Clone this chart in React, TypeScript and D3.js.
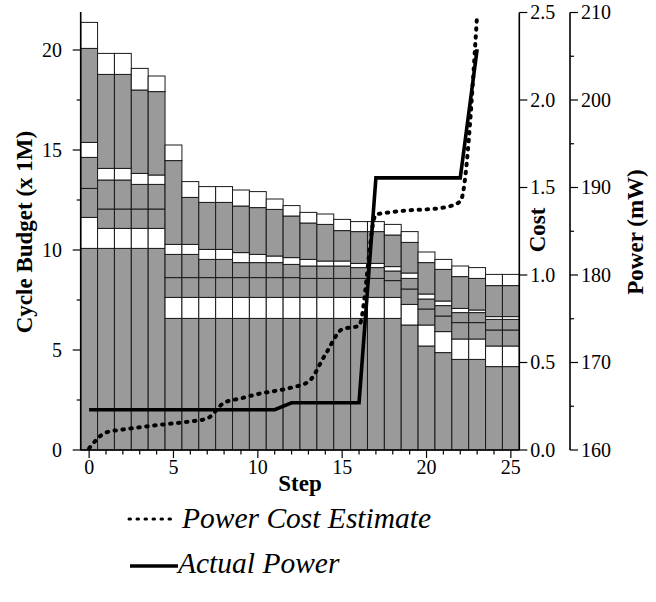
import React from "react";
import * as d3 from "d3";

// ---- data ----
const steps = [0, 1, 2, 3, 4, 5, 6, 7, 8, 9, 10, 11, 12, 13, 14, 15, 16, 17, 18, 19, 20, 21, 22, 23, 24, 25];

// cumulative budget levels (x 1M) for each step, bottom to top
const level1 = [10.08, 10.08, 10.08, 10.08, 10.08, 6.58, 6.58, 6.58, 6.58, 6.58, 6.58, 6.58, 6.58, 6.58, 6.58, 6.58, 6.58, 6.58, 6.58, 6.25, 5.2, 4.87, 4.53, 4.53, 4.17, 4.17];
const level2 = [11.63, 11.08, 11.08, 11.08, 11.08, 7.63, 7.63, 7.63, 7.63, 7.63, 7.63, 7.63, 7.63, 7.63, 7.63, 7.63, 7.63, 7.63, 7.63, 7.28, 6.25, 5.92, 5.55, 5.55, 5.2, 5.2];
const level3 = [13.08, 12.05, 12.05, 12.05, 12.05, 8.62, 8.62, 8.62, 8.62, 8.62, 8.62, 8.62, 8.62, 8.58, 8.58, 8.58, 8.58, 8.58, 8.47, 8.05, 7.05, 6.7, 6.37, 6.37, 6.0, 6.0];
const level4 = [14.63, 13.5, 13.5, 13.28, 13.28, 9.78, 9.78, 9.53, 9.53, 9.37, 9.37, 9.37, 9.28, 9.2, 9.2, 9.2, 9.12, 9.12, 8.95, 8.58, 7.55, 7.22, 6.87, 6.87, 6.53, 6.53];
const level5 = [15.38, 14.08, 14.08, 13.83, 13.75, 10.28, 10.28, 10.03, 10.03, 9.87, 9.78, 9.7, 9.62, 9.53, 9.45, 9.45, 9.33, 9.33, 9.17, 8.85, 7.8, 7.45, 7.08, 7.0, 6.67, 6.67];
const level6 = [20.08, 18.78, 18.78, 18.0, 17.92, 14.47, 12.63, 12.38, 12.38, 12.2, 12.12, 12.03, 11.7, 11.35, 11.28, 10.97, 10.92, 10.92, 10.75, 10.38, 9.37, 9.03, 8.67, 8.58, 8.22, 8.22];
const level7 = [21.38, 19.83, 19.83, 19.08, 18.7, 15.25, 13.42, 13.17, 13.17, 13.0, 12.92, 12.55, 12.22, 11.88, 11.8, 11.53, 11.42, 11.42, 11.28, 10.92, 9.9, 9.53, 9.2, 9.12, 8.78, 8.78];
// band kind between consecutive levels: used (gray) or slack (white)
const bandKinds = ["used", "slack", "used", "used", "slack", "used", "slack"];

const lineSteps = [0, 1, 2, 3, 4, 5, 6, 7, 8, 9, 10, 11, 12, 13, 14, 15, 16, 17, 18, 19, 20, 21, 22, 23];
const costEstimate = [0.01, 0.1, 0.117, 0.13, 0.142, 0.152, 0.163, 0.18, 0.27, 0.295, 0.32, 0.337, 0.357, 0.39, 0.545, 0.69, 0.71, 1.345, 1.36, 1.37, 1.375, 1.385, 1.42, 2.49];
const actualPower = [164.6, 164.6, 164.6, 164.6, 164.6, 164.6, 164.6, 164.6, 164.6, 164.6, 164.6, 164.6, 165.4, 165.4, 165.4, 165.4, 165.4, 191.1, 191.1, 191.1, 191.1, 191.1, 191.1, 205.8];

const xTicks = [0, 5, 10, 15, 20, 25];
const leftTicks = [0, 5, 10, 15, 20];
const costTicks = [0, 0.5, 1.0, 1.5, 2.0, 2.5];
const powerTicks = [160, 170, 180, 190, 200, 210];

const FONT = "Liberation Serif, DejaVu Serif, Times New Roman, Times, serif";

export default function App() {
  const x = d3.scaleLinear().domain([-0.5, 25.5]).range([80.7, 519.3]);
  const yL = d3.scaleLinear().domain([0, 21.9]).range([450, 12]);
  const yC = d3.scaleLinear().domain([0, 2.5]).range([450, 12.5]);
  const yP = d3.scaleLinear().domain([160, 210]).range([450, 12.5]);
  const bw = x(1) - x(0);

  const levels = [level1, level2, level3, level4, level5, level6, level7];
  const rects: JSX.Element[] = [];
  steps.forEach((s, i) => {
    let lo = 0;
    levels.forEach((lv, k) => {
      const hi = lv[i];
      if (hi > lo) {
        rects.push(
          <rect
            key={`${i}-${k}`}
            x={x(s - 0.5)}
            y={yL(hi)}
            width={bw}
            height={yL(lo) - yL(hi)}
            fill={bandKinds[k] === "used" ? "#9a9a9a" : "#ffffff"}
            stroke="#1a1a1a"
            strokeWidth={1}
          />
        );
      }
      lo = Math.max(lo, hi);
    });
  });

  const costLine = d3
    .line<number>()
    .x((d, i) => x(lineSteps[i]))
    .y((d) => yC(d))
    .curve(d3.curveMonotoneX)(costEstimate);
  const powerLine = d3
    .line<number>()
    .x((d, i) => x(lineSteps[i]))
    .y((d) => yP(d))(actualPower);

  const xMinor = d3.range(0, 26);
  const leftMinor = [2.5, 7.5, 12.5, 17.5];
  const powerMinor = [165, 175, 185, 195, 205];
  const xAxisX = 519.3;
  const pAxisX = 570;
  const txt = { fontFamily: FONT };
  const TICK = 20;
  const TITLE = 23;

  return (
    <svg
      width={656}
      height={602}
      style={{ position: "absolute", left: 0, top: 0, background: "#fff", fontFamily: FONT }}
    >
      <rect x={0} y={0} width={656} height={602} fill="#fff" />
      {rects}

      {/* lines */}
      <path d={powerLine || ""} fill="none" stroke="#000" strokeWidth={3.6} strokeLinejoin="miter" />
      <path
        d={costLine || ""}
        fill="none"
        stroke="#000"
        strokeWidth={4}
        strokeDasharray="1.5 6.5"
        strokeLinecap="round"
      />

      {/* bottom axis */}
      <line x1={80.7} x2={xAxisX} y1={450} y2={450} stroke="#000" strokeWidth={1.6} />
      {xMinor.map((t) => (
        <line key={t} x1={x(t)} x2={x(t)} y1={450} y2={t % 5 === 0 ? 458 : 454.5} stroke="#000" strokeWidth={1.2} />
      ))}
      {xTicks.map((t) => (
        <text key={t} x={x(t)} y={474} textAnchor="middle" fontSize={TICK} style={txt}>
          {t}
        </text>
      ))}
      <text x={300} y={491} textAnchor="middle" fontSize={TITLE} fontWeight="bold" style={txt}>
        Step
      </text>

      {/* left axis */}
      <line x1={80.7} x2={80.7} y1={12} y2={450} stroke="#000" strokeWidth={1.6} />
      {leftTicks.map((t) => (
        <g key={t}>
          <line x1={72.7} x2={80.7} y1={yL(t)} y2={yL(t)} stroke="#000" strokeWidth={1.2} />
          <text x={62} y={yL(t)} dy="0.33em" textAnchor="end" fontSize={TICK} style={txt}>
            {t}
          </text>
        </g>
      ))}
      {leftMinor.map((t) => (
        <line key={t} x1={76.7} x2={80.7} y1={yL(t)} y2={yL(t)} stroke="#000" strokeWidth={1.2} />
      ))}
      <text
        transform="translate(24,232) rotate(-90)"
        textAnchor="middle"
        dy="0.35em"
        fontSize={TITLE}
        fontWeight="bold"
        style={txt}
      >
        Cycle Budget (x 1M)
      </text>

      {/* cost axis */}
      <line x1={xAxisX} x2={xAxisX} y1={12.5} y2={450} stroke="#000" strokeWidth={1.6} />
      {costTicks.map((t) => (
        <g key={t}>
          <line x1={xAxisX} x2={xAxisX + 8} y1={yC(t)} y2={yC(t)} stroke="#000" strokeWidth={1.2} />
          <text x={xAxisX + 11} y={yC(t)} dy="0.33em" fontSize={TICK} style={txt}>
            {t.toFixed(1)}
          </text>
        </g>
      ))}
      <text
        transform="translate(537,230) rotate(-90)"
        textAnchor="middle"
        dy="0.35em"
        fontSize={TITLE}
        fontWeight="bold"
        style={txt}
      >
        Cost
      </text>

      {/* power axis */}
      <line x1={pAxisX} x2={pAxisX} y1={12.5} y2={450} stroke="#000" strokeWidth={1.6} />
      {powerTicks.map((t) => (
        <g key={t}>
          <line x1={pAxisX} x2={pAxisX + 8} y1={yP(t)} y2={yP(t)} stroke="#000" strokeWidth={1.2} />
          <text x={pAxisX + 11} y={yP(t)} dy="0.33em" fontSize={TICK} style={txt}>
            {t}
          </text>
        </g>
      ))}
      {powerMinor.map((t) => (
        <line key={t} x1={pAxisX} x2={pAxisX + 4} y1={yP(t)} y2={yP(t)} stroke="#000" strokeWidth={1.2} />
      ))}
      <text
        transform="translate(635,232) rotate(-90)"
        textAnchor="middle"
        dy="0.35em"
        fontSize={TITLE}
        fontWeight="bold"
        style={txt}
      >
        Power (mW)
      </text>

      {/* legend */}
      <line x1={129} x2={177} y1={519} y2={519} stroke="#000" strokeWidth={3} strokeDasharray="1.5 6.5" strokeLinecap="round" />
      <text x={182} y={528} fontSize={29.5} fontStyle="italic" style={txt}>
        Power Cost Estimate
      </text>
      <line x1={130} x2={178} y1={566} y2={566} stroke="#000" strokeWidth={3.6} />
      <text x={178} y={573} fontSize={29.5} fontStyle="italic" style={txt}>
        Actual Power
      </text>
    </svg>
  );
}
